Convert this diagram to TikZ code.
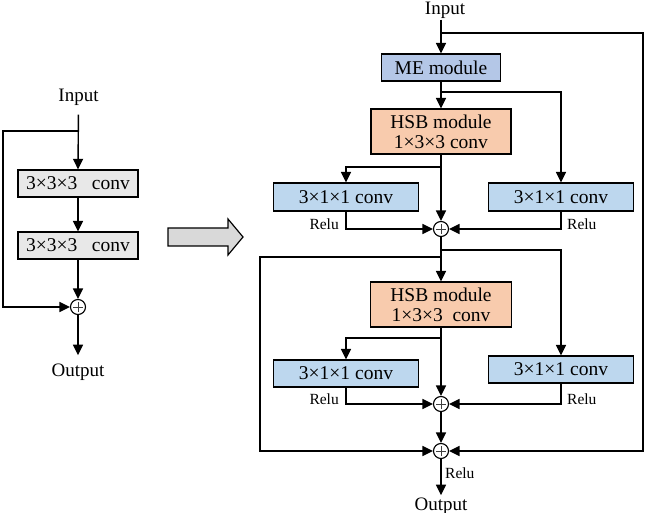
\documentclass[tikz,border=0pt]{standalone}
\usepackage{fontspec}
\setmainfont{Liberation Serif}
\usetikzlibrary{arrows.meta}
\definecolor{grayfill}{HTML}{E8E8E8}
\definecolor{arrowgray}{HTML}{D9D9D9}
\definecolor{mefill}{HTML}{B4C7E7}
\definecolor{hsbfill}{HTML}{F8CBAD}
\definecolor{convfill}{HTML}{BDD7EE}
\begin{document}
\begin{tikzpicture}[x=1pt,y=-1pt,
  arr/.style={line width=1.4pt,-{Triangle[length=10.5pt,width=10pt]}},
  box/.style={draw, line width=1.2pt, rectangle, inner sep=0pt, align=center, font=\fontsize{19.5}{20}\selectfont},
  txt/.style={inner sep=1pt, font=\fontsize{19}{20}\selectfont},
  relu/.style={inner sep=0pt, font=\fontsize{15.5}{17}\selectfont},
  sumnode/.style={circle, draw, line width=1.1pt, minimum size=15pt, inner sep=0pt, fill=white,
    path picture={\draw[line width=0.7pt,black!75]
      ([xshift=-5pt]path picture bounding box.center) -- ([xshift=5pt]path picture bounding box.center)
      ([yshift=-5pt]path picture bounding box.center) -- ([yshift=5pt]path picture bounding box.center);}}
]
\useasboundingbox (0,0) rectangle (646,513);

% ---------- left: plain residual block ----------
\node[txt, anchor=base] (lin) at (78.5,101.5) {Input};
\node[box, fill=grayfill, minimum width=120pt, minimum height=27pt] (c1) at (78,183.5) {3×3×3~~~conv};
\node[box, fill=grayfill, minimum width=120pt, minimum height=27pt] (c2) at (78,245.5) {3×3×3~~~conv};
\node[sumnode] (s0) at (78,307) {};
\node[txt, anchor=base] (lout) at (78,377) {Output};
\coordinate (lb) at (78,131);
\coordinate (lcorner) at (3,131);

\draw[arr, shorten <=8pt] (lin.south) -- (c1.north);
\draw[arr] (lb) -- (lcorner) |- (s0.west);
\draw[arr] (c1.south) -- (c2.north);
\draw[arr] (c2.south) -- (s0.north);
\draw[arr, shorten >=8pt] (s0.south) -- (lout.north);

% ---------- big arrow ----------
\draw[fill=arrowgray, line width=1.2pt, line join=miter]
  (168,228) -- (228,228) -- (228,219) -- (243,237) -- (228,255) -- (228,246) -- (168,246) -- cycle;

% ---------- right: proposed block ----------
\node[txt, anchor=base] (rin) at (445,14.5) {Input};
\node[box, fill=mefill, minimum width=119pt, minimum height=27pt] (me) at (441,67.5) {ME module};
\node[box, fill=hsbfill, minimum width=140pt, minimum height=45pt] (h1) at (441,131.5) {HSB module\\1×3×3 conv};
\node[box, fill=convfill, minimum width=145pt, minimum height=28pt] (lc1) at (346,197) {3×1×1 conv};
\node[box, fill=convfill, minimum width=145pt, minimum height=28pt] (rc1) at (561,197) {3×1×1 conv};
\node[sumnode] (s1) at (441,229) {};
\node[box, fill=hsbfill, minimum width=141pt, minimum height=45pt] (h2) at (441,304.5) {HSB module\\1×3×3~~conv};
\node[box, fill=convfill, minimum width=145pt, minimum height=27pt] (lc2) at (346,373.5) {3×1×1 conv};
\node[box, fill=convfill, minimum width=145pt, minimum height=27pt] (rc2) at (561,369.5) {3×1×1 conv};
\node[sumnode] (s2) at (441,404) {};
\node[sumnode] (s3) at (441,451) {};
\node[txt, anchor=base] (rout) at (441,510) {Output};

\node[relu, anchor=base east] (r1) at (339,230) {Relu};
\node[relu, anchor=base west] (r2) at (567,230) {Relu};
\node[relu, anchor=base east] (r3) at (339,405) {Relu};
\node[relu, anchor=base west] (r4) at (567,405) {Relu};
\node[relu, anchor=base west] (r5) at (445,478) {Relu};

\coordinate (b1) at (441,33);
\coordinate (b1r) at (643,33);
\coordinate (b2) at (441,92);
\coordinate (b3) at (441,167);
\coordinate (b4) at (441,250);
\coordinate (b5) at (441,257);
\coordinate (b5l) at (260,257);
\coordinate (b6) at (441,338);

\draw[arr] (rin.south -| me.north) -- (me.north);
\draw[arr] (b1) -- (b1r) |- (s3.east);
\draw[arr] (me.south) -- (h1.north);
\draw[arr] (b2) -| (rc1.north);
\draw[arr] (h1.south) -- (s1.north);
\draw[arr] (b3) -| (lc1.north);
\draw[arr] (lc1.south) |- (s1.west);
\draw[arr] (rc1.south) |- (s1.east);
\draw[arr] (s1.south) -- (h2.north);
\draw[arr] (b4) -| (rc2.north);
\draw[arr] (b5) -- (b5l) |- (s3.west);
\draw[arr] (h2.south) -- (s2.north);
\draw[arr] (b6) -| (lc2.north);
\draw[arr] (lc2.south) |- (s2.west);
\draw[arr] (rc2.south) |- (s2.east);
\draw[arr] (s2.south) -- (s3.north);
\draw[arr, shorten >=1pt] (s3.south) -- (rout.north);
\end{tikzpicture}
\end{document}
